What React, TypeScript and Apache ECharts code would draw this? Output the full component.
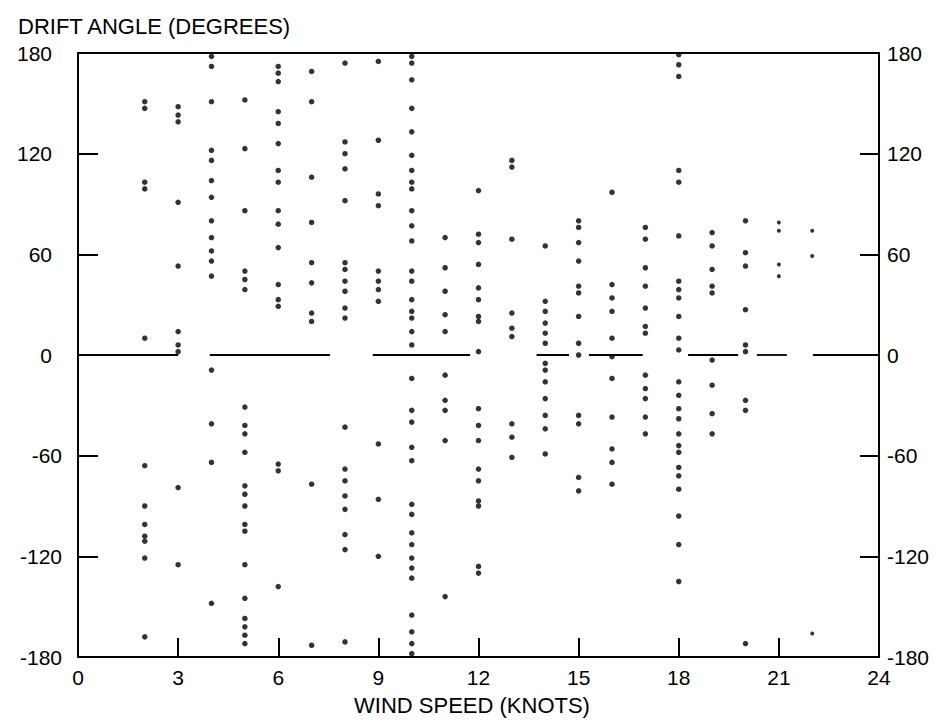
import React, { useEffect, useRef } from "react";
import * as echarts from "echarts";

// Drift angle (degrees) observed at each wind speed (knots)
const windSpeeds = [2, 3, 4, 5, 6, 7, 8, 9, 10, 11, 12, 13, 14, 15, 16, 17, 18, 19, 20, 21, 22];

const kt2 = [151, 147, 103, 99, 10, -66, -90, -101, -108, -111, -121, -168];
const kt3 = [148, 143, 139, 91, 53, 14, 6, 2, -79, -125];
const kt4 = [178, 172, 151, 122, 116, 104, 94, 80, 70, 62, 56, 47, -9, -41, -64, -148];
const kt5 = [152, 123, 86, 50, 45, 39, -31, -42, -47, -58, -78, -83, -90, -101, -105, -125, -145, -157, -162, -167, -172];
const kt6 = [172, 168, 163, 145, 138, 126, 110, 103, 86, 78, 64, 42, 33, 29, -65, -69, -138];
const kt7 = [169, 151, 106, 79, 55, 43, 25, 20, -77, -173];
const kt8 = [174, 127, 120, 111, 92, 55, 51, 44, 38, 28, 22, -43, -68, -75, -84, -92, -107, -116, -171];
const kt9 = [175, 128, 96, 89, 50, 44, 39, 32, -53, -86, -120];
const kt10 = [178, 174, 164, 147, 133, 119, 110, 103, 99, 86, 77, 68, 50, 44, 33, 26, 22, 14, 6, -14, -33, -40, -55, -63, -89, -95, -106, -113, -121, -127, -133, -155, -165, -172, -178];
const kt11 = [70, 52, 38, 24, 14, -12, -27, -33, -51, -144];
const kt12 = [98, 72, 67, 54, 40, 33, 23, 20, 2, -32, -42, -51, -68, -75, -87, -90, -126, -130];
const kt13 = [116, 112, 69, 25, 16, 11, -41, -49, -61];
const kt14 = [65, 32, 26, 19, 13, 7, -5, -9, -16, -26, -36, -44, -59];
const kt15 = [80, 76, 67, 56, 41, 37, 23, 7, 0, -36, -41, -73, -81];
const kt16 = [97, 42, 34, 26, 10, -1, -14, -37, -56, -64, -77];
const kt17 = [76, 69, 52, 41, 28, 17, 13, -12, -20, -26, -37, -47];
const kt18 = [179, 173, 166, 110, 103, 71, 44, 39, 34, 23, 10, 3, -16, -24, -32, -38, -47, -54, -58, -67, -72, -80, -96, -113, -135];
const kt19 = [73, 65, 51, 41, 37, -3, -18, -35, -47];
const kt20 = [80, 61, 53, 27, 6, 2, -27, -33, -172];
const kt21 = [79, 74, 54, 47];
const kt22 = [74, 59, -166];

const anglesBySpeed = [kt2, kt3, kt4, kt5, kt6, kt7, kt8, kt9, kt10, kt11, kt12, kt13, kt14, kt15, kt16, kt17, kt18, kt19, kt20, kt21, kt22];

// Broken zero reference line: [from knots, to knots]
const zeroSegments = [
  [0, 3.0],
  [3.95, 7.55],
  [8.83, 11.75],
  [13.74, 14.71],
  [15.31, 16.92],
  [18.28, 19.78],
  [20.34, 21.24],
  [22.02, 24],
];

const xTicks = { min: 0, max: 24, interval: 3 };
const yTicks = { min: -180, max: 180, interval: 60 };

const FONT = "'Liberation Sans', Arial, sans-serif";

export default function App() {
  const ref = useRef<HTMLDivElement>(null);

  useEffect(() => {
    if (!ref.current) return;
    const chart = echarts.init(ref.current, undefined, { renderer: "svg" });

    const points: number[][] = [];
    windSpeeds.forEach((s, i) => {
      anglesBySpeed[i].forEach((a) => points.push([s, a]));
    });

    const zeroSeries = zeroSegments.map(([a, b]) => ({
      type: "line",
      data: [
        [a, 0],
        [b, 0],
      ],
      symbol: "none",
      silent: true,
      lineStyle: { color: "#000", width: 1.8 },
      z: 1,
    }));

    const labelCommon = {
      color: "#000",
      fontFamily: FONT,
      fontSize: 21,
    };

    chart.setOption({
      animation: false,
      backgroundColor: "#fff",
      grid: { left: 78, right: 56, top: 53, bottom: 70, containLabel: false },
      xAxis: [
        {
          type: "value",
          position: "bottom",
          ...xTicks,
          axisLine: { show: true, onZero: false, lineStyle: { color: "#000", width: 2 } },
          axisTick: { show: true, inside: true, length: 19, lineStyle: { color: "#000", width: 2 } },
          axisLabel: { ...labelCommon, margin: 10 },
          splitLine: { show: false },
        },
        {
          type: "value",
          position: "top",
          ...xTicks,
          axisLine: { show: true, onZero: false, lineStyle: { color: "#000", width: 2 } },
          axisTick: { show: false },
          axisLabel: { show: false },
          splitLine: { show: false },
        },
      ],
      yAxis: [
        {
          type: "value",
          position: "left",
          ...yTicks,
          axisLine: { show: true, onZero: false, lineStyle: { color: "#000", width: 2 } },
          axisTick: { show: true, inside: true, length: 20, lineStyle: { color: "#000", width: 2 } },
          axisLabel: {
            ...labelCommon,
            margin: 16,
            formatter: (v: number) => (v < 0 ? `{n|${v}}` : `{p|${v}}`),
            rich: {
              p: { ...labelCommon, padding: [0, 10, 0, 0] },
              n: { ...labelCommon },
            },
          },
          splitLine: { show: false },
        },
        {
          type: "value",
          position: "right",
          ...yTicks,
          axisLine: { show: true, onZero: false, lineStyle: { color: "#000", width: 2 } },
          axisTick: { show: true, inside: true, length: 19, lineStyle: { color: "#000", width: 2 } },
          axisLabel: { ...labelCommon, margin: 8 },
          splitLine: { show: false },
        },
      ],
      graphic: [
        {
          type: "text",
          left: 18,
          top: 15,
          style: {
            text: "DRIFT ANGLE (DEGREES)",
            fill: "#000",
            font: `22px ${FONT}`,
          },
        },
        {
          type: "text",
          x: 472,
          y: 705,
          style: {
            text: "WIND SPEED (KNOTS)",
            fill: "#000",
            font: `22px ${FONT}`,
            align: "center",
            verticalAlign: "middle",
          },
        },
      ],
      series: [
        ...zeroSeries,
        {
          type: "scatter",
          xAxisIndex: 0,
          yAxisIndex: 0,
          data: points,
          symbol: "circle",
          symbolSize: (val: number[]) => (val[0] >= 21 ? 4 : 5.5),
          itemStyle: { color: "#000" },
          z: 3,
        },
      ],
    });

    return () => chart.dispose();
  }, []);

  return (
    <div
      ref={ref}
      style={{ position: "fixed", left: 0, top: 0, width: 935, height: 727, background: "#fff" }}
    />
  );
}
